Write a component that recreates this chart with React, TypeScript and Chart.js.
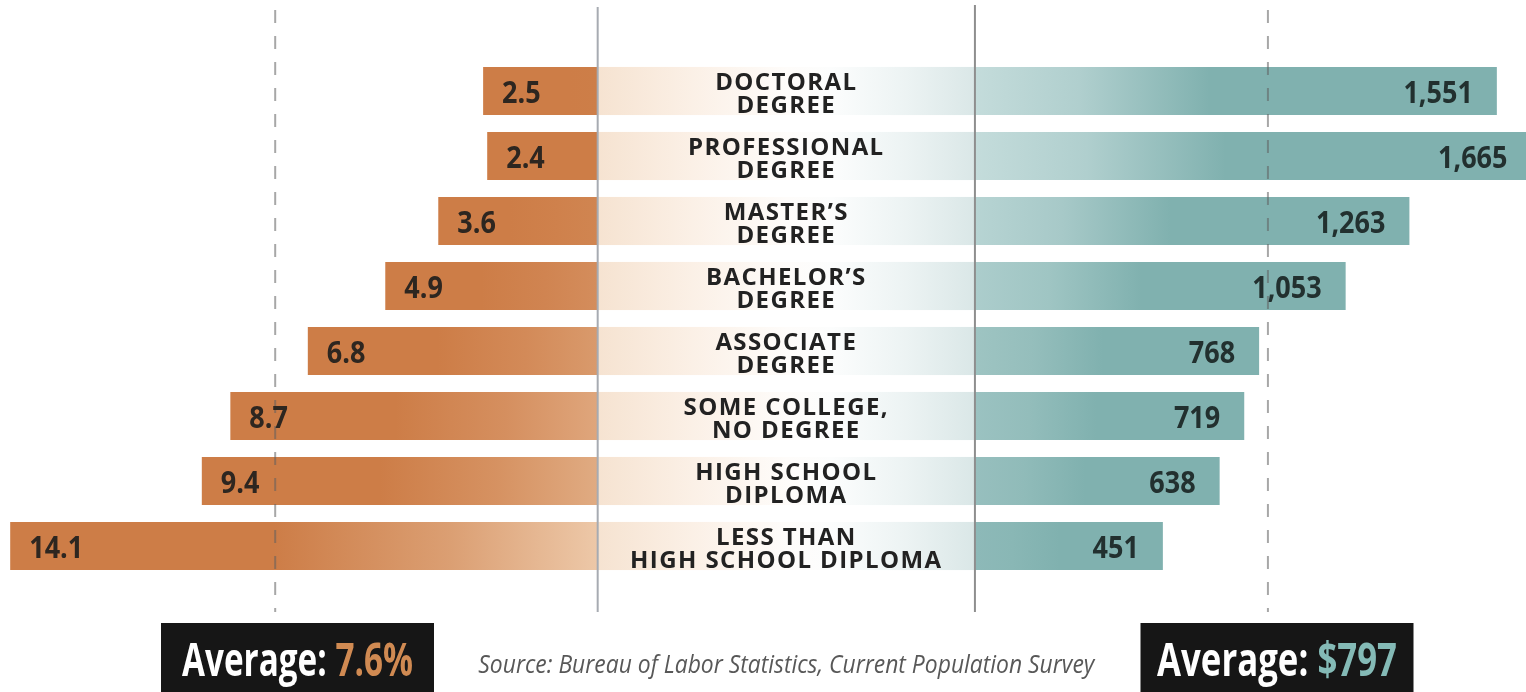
import React, { useEffect, useRef } from "react";
import { Chart, registerables } from "chart.js";

Chart.register(...registerables);

// ---------- data ----------
const categories: string[][] = [
  ["DOCTORAL", "DEGREE"],
  ["PROFESSIONAL", "DEGREE"],
  ["MASTER\u2019S", "DEGREE"],
  ["BACHELOR\u2019S", "DEGREE"],
  ["ASSOCIATE", "DEGREE"],
  ["SOME COLLEGE,", "NO DEGREE"],
  ["HIGH SCHOOL", "DIPLOMA"],
  ["LESS THAN", "HIGH SCHOOL DIPLOMA"],
];
const unemploymentRate: number[] = [2.5, 2.4, 3.6, 4.9, 6.8, 8.7, 9.4, 14.1];
const weeklyEarnings: number[] = [1551, 1665, 1263, 1053, 768, 719, 638, 451];
const averageRate = 7.6;
const averageEarnings = 797;
const sourceNote = "Source: Bureau of Labor Statistics, Current Population Survey";

// ---------- axis setup (scale ranges as drawn in the infographic) ----------
const RATE_MIN = -23.08;
const RATE_MAX = 14.35;
const RATE_BASE = -0.31;
const EARN_MIN = -3379;
const EARN_MAX = 1647;
const EARN_BASE = -168;

// ---------- styles ----------
const W = 1526;
const H = 692;
const ORANGE = [205, 125, 71];
const ORANGE_LIGHT = [237, 200, 168];
const TEAL = [128, 177, 175];
const TEAL_LIGHT = [196, 220, 219];
const LABEL_FONT = "'Open Sans', 'DejaVu Sans', sans-serif";

const rgb = (c: number[]) => `rgb(${c[0]},${c[1]},${c[2]})`;
const mix = (a: number[], b: number[], t: number) =>
  rgb([0, 1, 2].map((i) => Math.round(a[i] + (b[i] - a[i]) * t)));
const clamp = (v: number, lo: number, hi: number) => Math.max(lo, Math.min(hi, v));

function drawScaled(
  ctx: CanvasRenderingContext2D,
  parts: { text: string; color: string }[],
  cx: number,
  baseline: number,
  font: string,
  targetWidth: number
) {
  ctx.save();
  ctx.font = font;
  ctx.textAlign = "left";
  ctx.textBaseline = "alphabetic";
  const full = parts.map((p) => p.text).join("");
  const w = ctx.measureText(full).width;
  const s = targetWidth / w;
  ctx.translate(cx - targetWidth / 2, baseline);
  ctx.scale(s, 1);
  let x = 0;
  for (const p of parts) {
    ctx.fillStyle = p.color;
    ctx.fillText(p.text, x, 0);
    x += ctx.measureText(p.text).width;
  }
  ctx.restore();
}

function drawNum(
  ctx: CanvasRenderingContext2D,
  text: string,
  x: number,
  baseline: number,
  align: CanvasTextAlign,
  color: string
) {
  ctx.save();
  ctx.font = `700 30px ${LABEL_FONT}`;
  ctx.fillStyle = color;
  ctx.textAlign = align;
  ctx.textBaseline = "alphabetic";
  ctx.translate(x, baseline);
  ctx.scale(0.9, 1);
  ctx.fillText(text, 0, 0);
  ctx.restore();
}

const decorPlugin = {
  id: "decor",
  beforeDatasetsDraw(chart: any) {
    const ctx: CanvasRenderingContext2D = chart.ctx;
    const xr = chart.scales.xRate;
    const xe = chart.scales.xEarn;
    const left = xr.getPixelForValue(RATE_BASE);
    const right = xe.getPixelForValue(EARN_BASE);
    const meta = chart.getDatasetMeta(0);
    ctx.save();
    meta.data.forEach((bar: any) => {
      const cy = bar.y;
      const h = bar.height;
      const g = ctx.createLinearGradient(left, 0, right, 0);
      g.addColorStop(0, "rgb(246,227,209)");
      g.addColorStop(0.25, "rgb(251,240,230)");
      g.addColorStop(0.5, "rgb(254,252,250)");
      g.addColorStop(0.62, "rgb(252,253,253)");
      g.addColorStop(0.82, "rgb(236,243,243)");
      g.addColorStop(1, "rgb(218,231,231)");
      ctx.fillStyle = g;
      ctx.fillRect(left, cy - h / 2, right - left, h);
    });
    ctx.restore();
  },
  afterDatasetsDraw(chart: any) {
    const ctx: CanvasRenderingContext2D = chart.ctx;
    const xr = chart.scales.xRate;
    const xe = chart.scales.xEarn;
    const left = xr.getPixelForValue(RATE_BASE);
    const right = xe.getPixelForValue(EARN_BASE);
    const lineTop = 7;
    const lineBottom = 612;

    // axis lines
    ctx.save();
    ctx.lineWidth = 2;
    ctx.strokeStyle = "#a7abb2";
    ctx.beginPath();
    ctx.moveTo(left, lineTop);
    ctx.lineTo(left, lineBottom);
    ctx.stroke();
    ctx.strokeStyle = "#8e8e8e";
    ctx.beginPath();
    ctx.moveTo(right, lineTop - 2);
    ctx.lineTo(right, lineBottom);
    ctx.stroke();

    // average dashed lines
    ctx.setLineDash([13, 13]);
    ctx.strokeStyle = "rgba(95,95,95,0.55)";
    const ax1 = xr.getPixelForValue(averageRate);
    const ax2 = xe.getPixelForValue(averageEarnings);
    ctx.beginPath();
    ctx.moveTo(ax1, lineTop + 3);
    ctx.lineTo(ax1, lineBottom);
    ctx.moveTo(ax2, lineTop + 3);
    ctx.lineTo(ax2, lineBottom);
    ctx.stroke();
    ctx.restore();

    // category labels in the middle
    const cx = (left + right) / 2;
    const meta0 = chart.getDatasetMeta(0);
    const meta1 = chart.getDatasetMeta(1);
    ctx.save();
    ctx.font = `700 24px ${LABEL_FONT}`;
    (ctx as any).letterSpacing = "1.4px";
    ctx.fillStyle = "#222222";
    ctx.textAlign = "center";
    ctx.textBaseline = "alphabetic";
    meta0.data.forEach((bar: any, i: number) => {
      const lines = categories[i];
      ctx.fillText(lines[0], cx, bar.y - 1);
      ctx.fillText(lines[1], cx, bar.y + 22);
    });
    ctx.restore();

    // value labels
    meta0.data.forEach((bar: any, i: number) => {
      drawNum(ctx, unemploymentRate[i].toFixed(1), bar.x + 19, bar.y + 11.5, "left", "#2d2620");
    });
    meta1.data.forEach((bar: any, i: number) => {
      drawNum(ctx, weeklyEarnings[i].toLocaleString("en-US"), bar.x - 24, bar.y + 11.5, "right", "#22302f");
    });

    // average boxes
    const boxTop = 623;
    const boxW = 273;
    const boxes = [
      { cx: 297.5, parts: [{ text: "Average: ", color: "#ffffff" }, { text: `${averageRate}%`, color: "#d08a52" }], tw: 231 },
      { cx: 1277, parts: [{ text: "Average: ", color: "#ffffff" }, { text: `$${averageEarnings}`, color: "#84bab6" }], tw: 240 },
    ];
    boxes.forEach((b) => {
      ctx.fillStyle = "#161616";
      ctx.fillRect(b.cx - boxW / 2, boxTop, boxW, H - boxTop);
      drawScaled(ctx, b.parts, b.cx, 676, `700 47px ${LABEL_FONT}`, b.tw);
    });

    // source note
    drawScaled(ctx, [{ text: sourceNote, color: "#585858" }], cx, 673, `italic 400 25px ${LABEL_FONT}`, 616);
  },
};

export default function App() {
  const ref = useRef<HTMLCanvasElement | null>(null);

  useEffect(() => {
    if (!ref.current) return;
    const rateColor = (c: any) => {
      const chart = c.chart;
      const s = chart.scales?.xRate;
      const i = c.dataIndex;
      if (!s || !chart.chartArea || i === undefined) return rgb(ORANGE);
      const outer = s.getPixelForValue(unemploymentRate[i]);
      const inner = s.getPixelForValue(RATE_BASE);
      const len = Math.abs(inner - outer);
      const t = clamp((len - 110) / 470, 0, 1);
      const g = chart.ctx.createLinearGradient(outer, 0, inner, 0);
      g.addColorStop(0, rgb(ORANGE));
      g.addColorStop(0.45, rgb(ORANGE));
      g.addColorStop(0.75, mix(ORANGE, ORANGE_LIGHT, t * 0.45));
      g.addColorStop(1, mix(ORANGE, ORANGE_LIGHT, t));
      return g;
    };
    const earnColor = (c: any) => {
      const chart = c.chart;
      const s = chart.scales?.xEarn;
      const i = c.dataIndex;
      if (!s || !chart.chartArea || i === undefined) return rgb(TEAL);
      const outer = s.getPixelForValue(weeklyEarnings[i]);
      const inner = s.getPixelForValue(EARN_BASE);
      const len = Math.abs(outer - inner);
      const t = clamp((len - 110) / 400, 0, 1);
      const g = chart.ctx.createLinearGradient(inner, 0, outer, 0);
      g.addColorStop(0, mix(TEAL, TEAL_LIGHT, t));
      g.addColorStop(0.2, mix(TEAL, TEAL_LIGHT, t * 0.7));
      g.addColorStop(0.45, rgb(TEAL));
      g.addColorStop(1, rgb(TEAL));
      return g;
    };

    const chart = new Chart(ref.current, {
      type: "bar",
      data: {
        labels: categories.map((c) => c.join(" ")),
        datasets: [
          {
            label: "Unemployment rate (%)",
            data: unemploymentRate,
            xAxisID: "xRate",
            base: RATE_BASE,
            backgroundColor: rateColor,
            grouped: false,
            barPercentage: 0.74,
            categoryPercentage: 1,
          } as any,
          {
            label: "Median weekly earnings ($)",
            data: weeklyEarnings,
            xAxisID: "xEarn",
            base: EARN_BASE,
            backgroundColor: earnColor,
            grouped: false,
            barPercentage: 0.74,
            categoryPercentage: 1,
          } as any,
        ],
      },
      options: {
        indexAxis: "y",
        animation: false,
        responsive: false,
        devicePixelRatio: 1,
        layout: { padding: { top: 58.5, bottom: 113.5, left: 0, right: 0 } },
        plugins: { legend: { display: false }, tooltip: { enabled: false }, title: { display: false } },
        scales: {
          y: { type: "category", display: false, offset: true, grid: { display: false } },
          xRate: { type: "linear", reverse: true, min: RATE_MIN, max: RATE_MAX, display: false },
          xEarn: { type: "linear", min: EARN_MIN, max: EARN_MAX, display: false },
        },
      } as any,
      plugins: [decorPlugin],
    });
    return () => chart.destroy();
  }, []);

  return (
    <div style={{ position: "absolute", left: 0, top: 0, width: W, height: H, background: "#ffffff" }}>
      <canvas ref={ref} width={W} height={H} style={{ display: "block", width: W, height: H }} />
    </div>
  );
}
